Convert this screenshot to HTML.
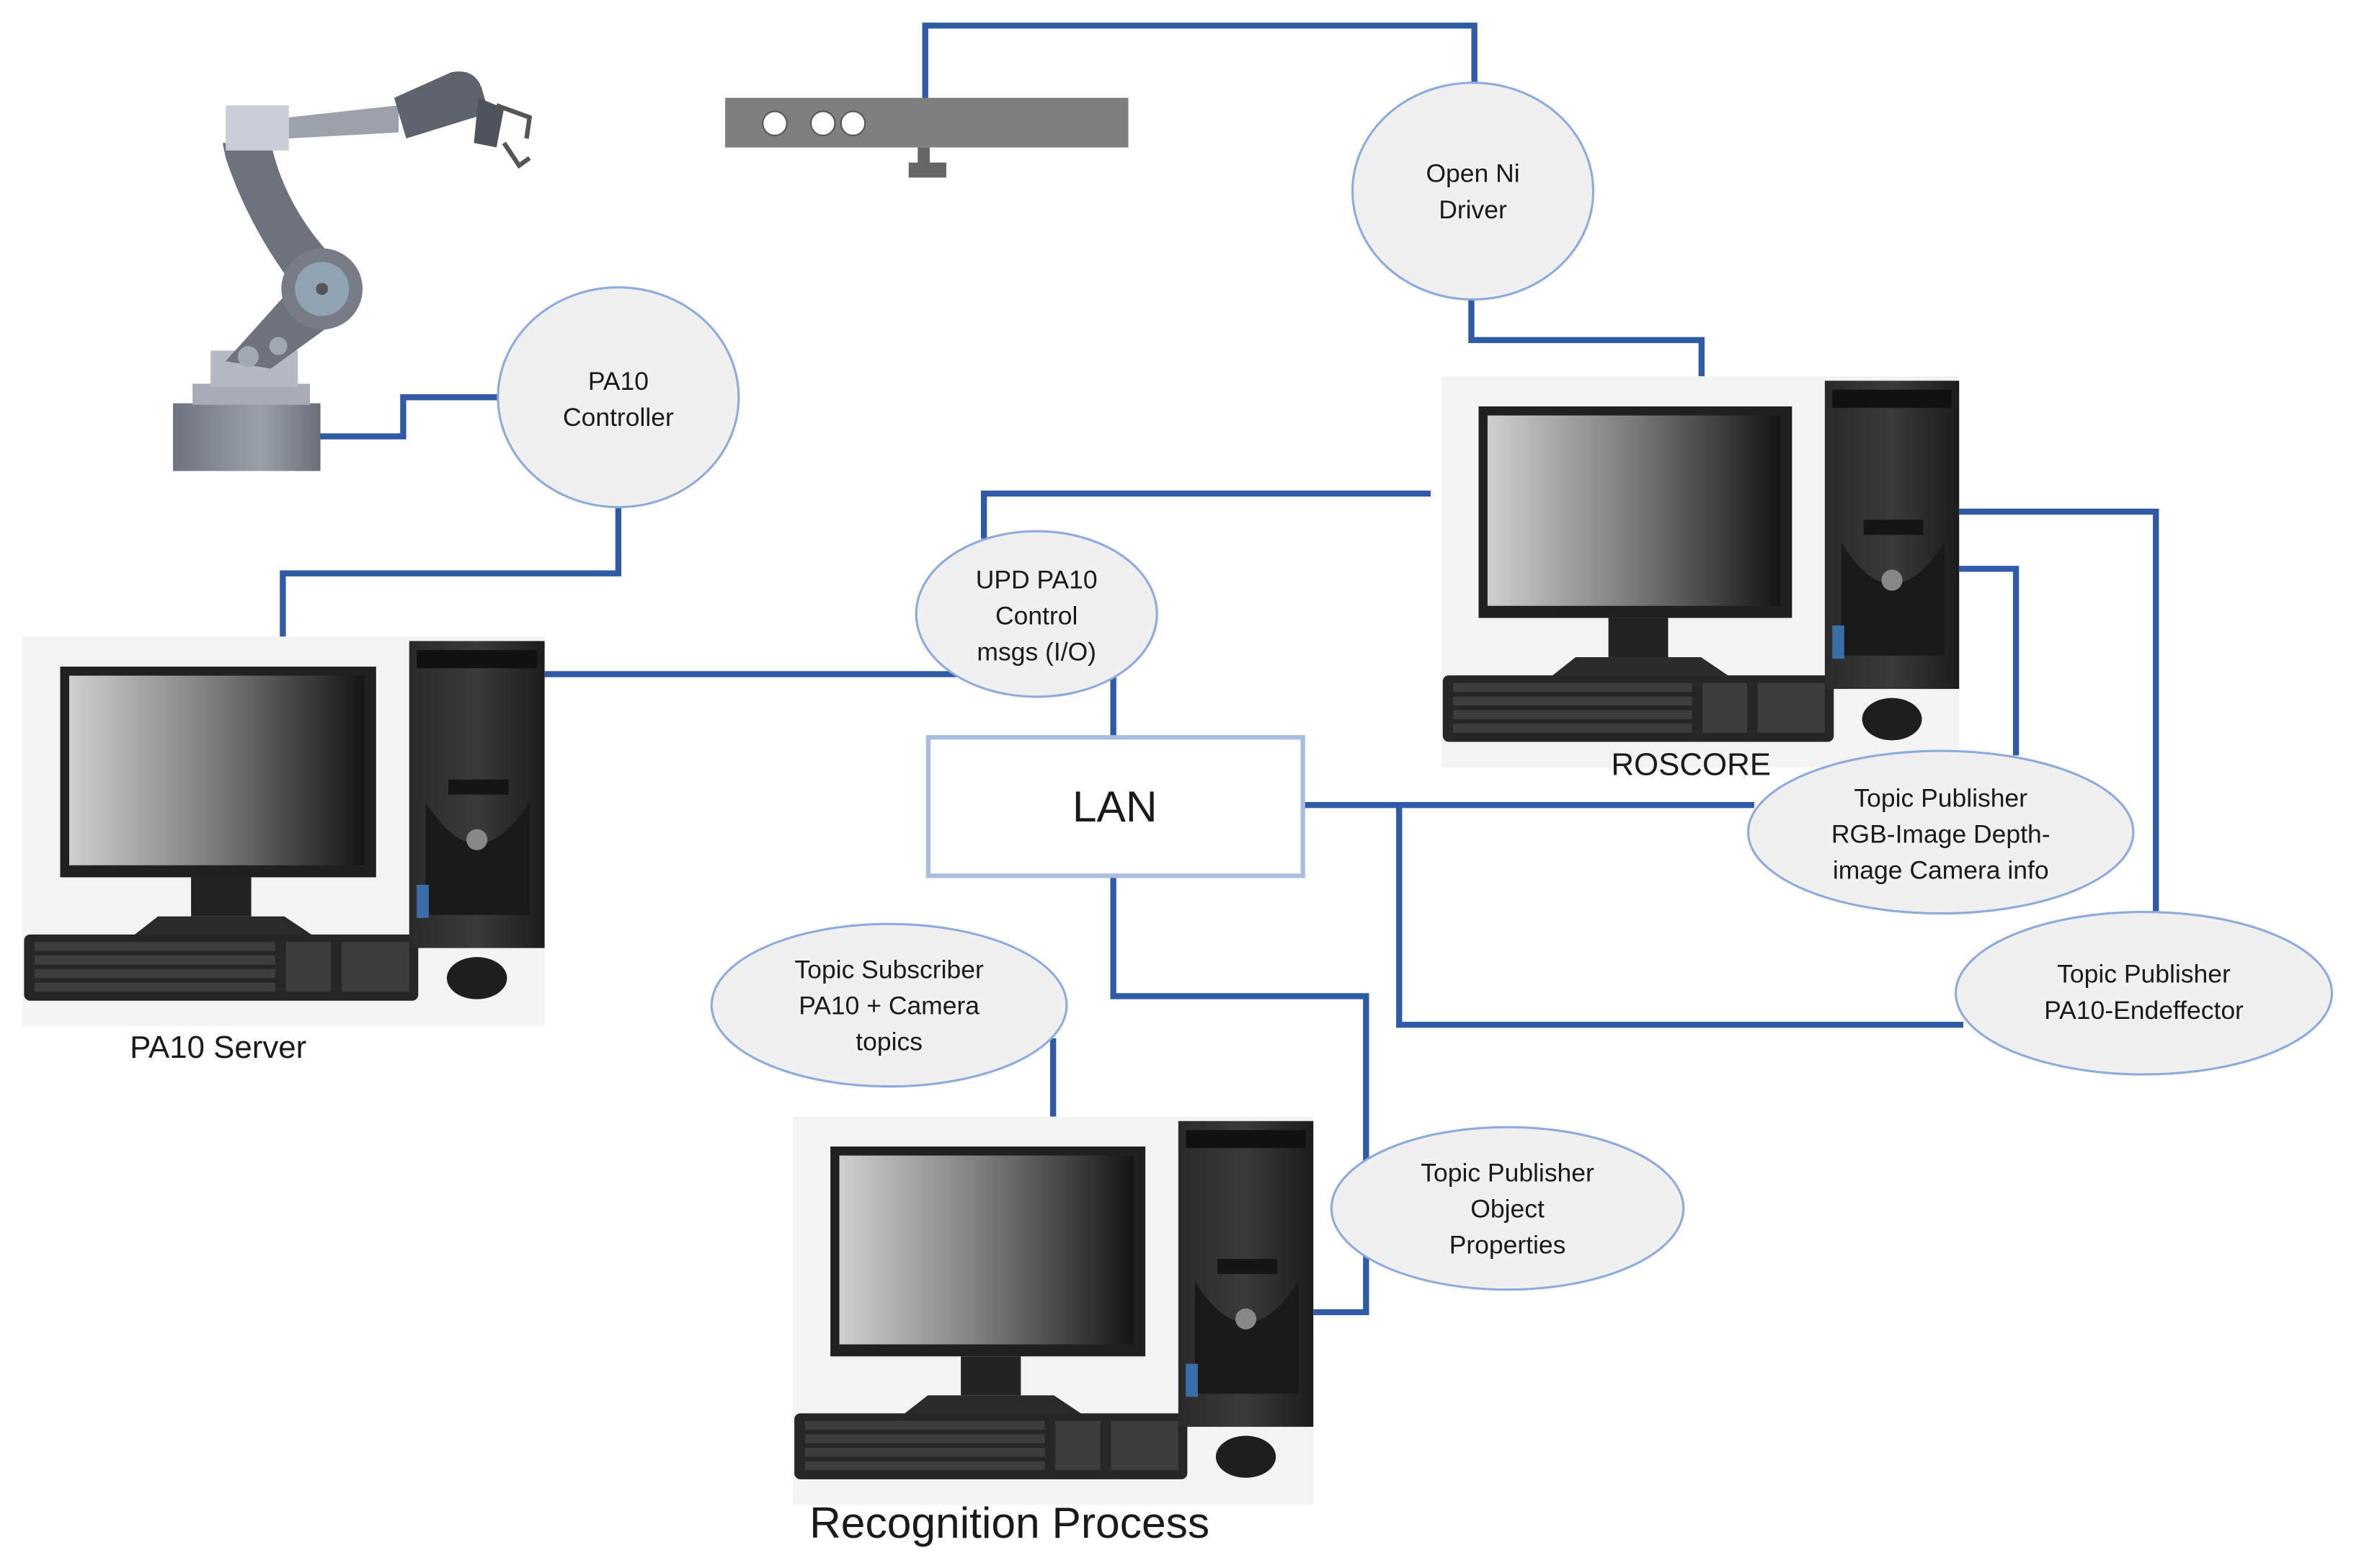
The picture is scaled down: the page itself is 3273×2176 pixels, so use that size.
<!DOCTYPE html>
<html><head><meta charset="utf-8"><style>
html,body{margin:0;padding:0;background:#fff;}
svg{display:block;}
text{font-family:"Liberation Sans",sans-serif;fill:#1a1a1a;}
</style></head><body>
<svg width="3273" height="2176" viewBox="0 0 1568 1042" preserveAspectRatio="none" xmlns="http://www.w3.org/2000/svg">
<defs>
<linearGradient id="scr" x1="0" y1="0" x2="1" y2="0">
<stop offset="0" stop-color="#cfcfcf"/><stop offset="0.5" stop-color="#7a7a7a"/><stop offset="1" stop-color="#151515"/>
</linearGradient>
<linearGradient id="tw" x1="0" y1="0" x2="1" y2="0">
<stop offset="0" stop-color="#2a2a2a"/><stop offset="0.5" stop-color="#3a3a3a"/><stop offset="1" stop-color="#1c1c1c"/>
</linearGradient>
<linearGradient id="met" x1="0" y1="0" x2="1" y2="0">
<stop offset="0" stop-color="#6f7480"/><stop offset="0.6" stop-color="#9aa0aa"/><stop offset="1" stop-color="#6a6f78"/>
</linearGradient>
<g id="pc">
<rect x="0" y="0" width="347" height="259" fill="#f3f3f3"/>
<rect x="25" y="20" width="210" height="140" fill="#202020"/>
<rect x="31" y="26" width="196" height="126" fill="url(#scr)"/>
<rect x="112" y="160" width="40" height="26" fill="#222"/>
<path d="M90 186 L174 186 L195 200 L72 200 Z" fill="#2a2a2a"/>
<rect x="1" y="198" width="262" height="44" rx="4" fill="#262626"/>
<g fill="#3d3d3d">
<rect x="8" y="203" width="160" height="6"/><rect x="8" y="212" width="160" height="6"/><rect x="8" y="221" width="160" height="6"/><rect x="8" y="230" width="160" height="6"/>
<rect x="175" y="203" width="30" height="33"/><rect x="212" y="203" width="45" height="33"/>
</g>
<rect x="257" y="3" width="90" height="204" fill="url(#tw)"/>
<rect x="262" y="9" width="80" height="12" fill="#111"/>
<path d="M268 110 Q302 165 337 110 L337 185 L268 185 Z" fill="#1a1a1a"/>
<rect x="283" y="95" width="40" height="10" fill="#151515"/>
<circle cx="302" cy="135" r="7" fill="#888"/>
<rect x="262" y="165" width="8" height="22" fill="#3a6ea8"/>
<ellipse cx="302" cy="227" rx="20" ry="14" fill="#1e1e1e"/>
</g>
</defs>

<g fill="none" stroke="#2f5aa6" stroke-width="4">
<polyline points="615,66 615,17 980,17 980,56"/>
<polyline points="978,199 978,226 1131,226 1131,251"/>
<polyline points="205,290 268,290 268,264 332,264"/>
<polyline points="411,337 411,381 188,381 188,424"/>
<polyline points="362,448 637,448"/>
<polyline points="654,358 654,328 951,328"/>
<polyline points="740,450 740,490"/>
<polyline points="740,582 740,662 908,662 908,872 873,872"/>
<polyline points="700,690 700,742"/>
<polyline points="866,535 1166,535"/>
<polyline points="930,535 930,681 1305,681"/>
<polyline points="1302,340 1433,340 1433,607"/>
<polyline points="1302,378 1340,378 1340,502"/>
</g>

<rect x="482" y="65" width="268" height="33" fill="#7f7f7f"/>
<circle cx="515" cy="82" r="8" fill="#fff" stroke="#555" stroke-width="1"/>
<circle cx="547" cy="82" r="8" fill="#fff" stroke="#555" stroke-width="1"/>
<circle cx="567" cy="82" r="8" fill="#fff" stroke="#555" stroke-width="1"/>
<rect x="610" y="98" width="8" height="12" fill="#666"/>
<rect x="604" y="108" width="25" height="10" fill="#666"/>

<g>
<rect x="115" y="268" width="98" height="45" fill="url(#met)"/>
<rect x="128" y="255" width="78" height="14" fill="#a7acb5"/>
<rect x="140" y="233" width="58" height="24" fill="#b5bac2"/>
<path d="M148 95 L180 95 Q190 140 225 175 L235 205 L180 245 L150 240 L195 190 Q165 150 150 105 Z" fill="#6e727c"/>
<circle cx="214" cy="192" r="27" fill="#787c86"/>
<circle cx="214" cy="192" r="18" fill="#8fa3b3"/>
<circle cx="214" cy="192" r="4" fill="#555"/>
<circle cx="165" cy="237" r="7" fill="#a0a8b2"/><circle cx="185" cy="230" r="6" fill="#a0a8b2"/>
<rect x="150" y="70" width="42" height="30" fill="#c9ced8"/>
<path d="M192 78 L265 70 L265 88 L192 92 Z" fill="#9da2aa"/>
<path d="M262 65 L300 48 Q315 45 320 58 L325 75 L270 92 Z" fill="#5f636c"/>
<path d="M318 65 L335 72 L330 98 L315 95 Z" fill="#4f535c"/>
<path d="M330 70 L352 78 L350 92 M335 95 L345 110 L352 105" stroke="#555" stroke-width="3" fill="none"/>
</g>

<use href="#pc" x="15" y="423"/>
<use href="#pc" x="958" y="250" transform="translate(958 250) scale(0.992 1.004) translate(-958 -250)"/>
<use href="#pc" x="527" y="742" transform="translate(527 742) scale(0.997 0.996) translate(-527 -742)"/>

<g fill="#f0f0f0" stroke="#8faadc" stroke-width="1.5">
<ellipse cx="979" cy="127" rx="80" ry="72"/>
<ellipse cx="411" cy="264" rx="80" ry="73"/>
<ellipse cx="689" cy="408" rx="80" ry="55"/>
<ellipse cx="591" cy="668" rx="118" ry="54"/>
<ellipse cx="1002" cy="803" rx="117" ry="54"/>
<ellipse cx="1290" cy="553" rx="128" ry="54"/>
<ellipse cx="1425" cy="660" rx="125" ry="54"/>
</g>
<rect x="617" y="490" width="249" height="92" fill="#fff" stroke="#a9bde0" stroke-width="3"/>

<g font-size="17" text-anchor="middle">
<text x="979" y="121">Open Ni</text><text x="979" y="145">Driver</text>
<text x="411" y="259">PA10</text><text x="411" y="283">Controller</text>
<text x="689" y="391">UPD PA10</text><text x="689" y="415">Control</text><text x="689" y="439">msgs (I/O)</text>
<text x="591" y="650">Topic Subscriber</text><text x="591" y="674">PA10 + Camera</text><text x="591" y="698">topics</text>
<text x="1002" y="785">Topic Publisher</text><text x="1002" y="809">Object</text><text x="1002" y="833">Properties</text>
<text x="1290" y="536">Topic Publisher</text><text x="1290" y="560">RGB-Image Depth-</text><text x="1290" y="584">image Camera info</text>
<text x="1425" y="653">Topic Publisher</text><text x="1425" y="677">PA10-Endeffector</text>
</g>
<text x="741" y="546" font-size="29" text-anchor="middle">LAN</text>
<text x="145" y="703" font-size="21" text-anchor="middle">PA10 Server</text>
<text x="1124" y="515" font-size="21" text-anchor="middle">ROSCORE</text>
<text x="671" y="1022" font-size="29" text-anchor="middle">Recognition Process</text>
</svg>
</body></html>
